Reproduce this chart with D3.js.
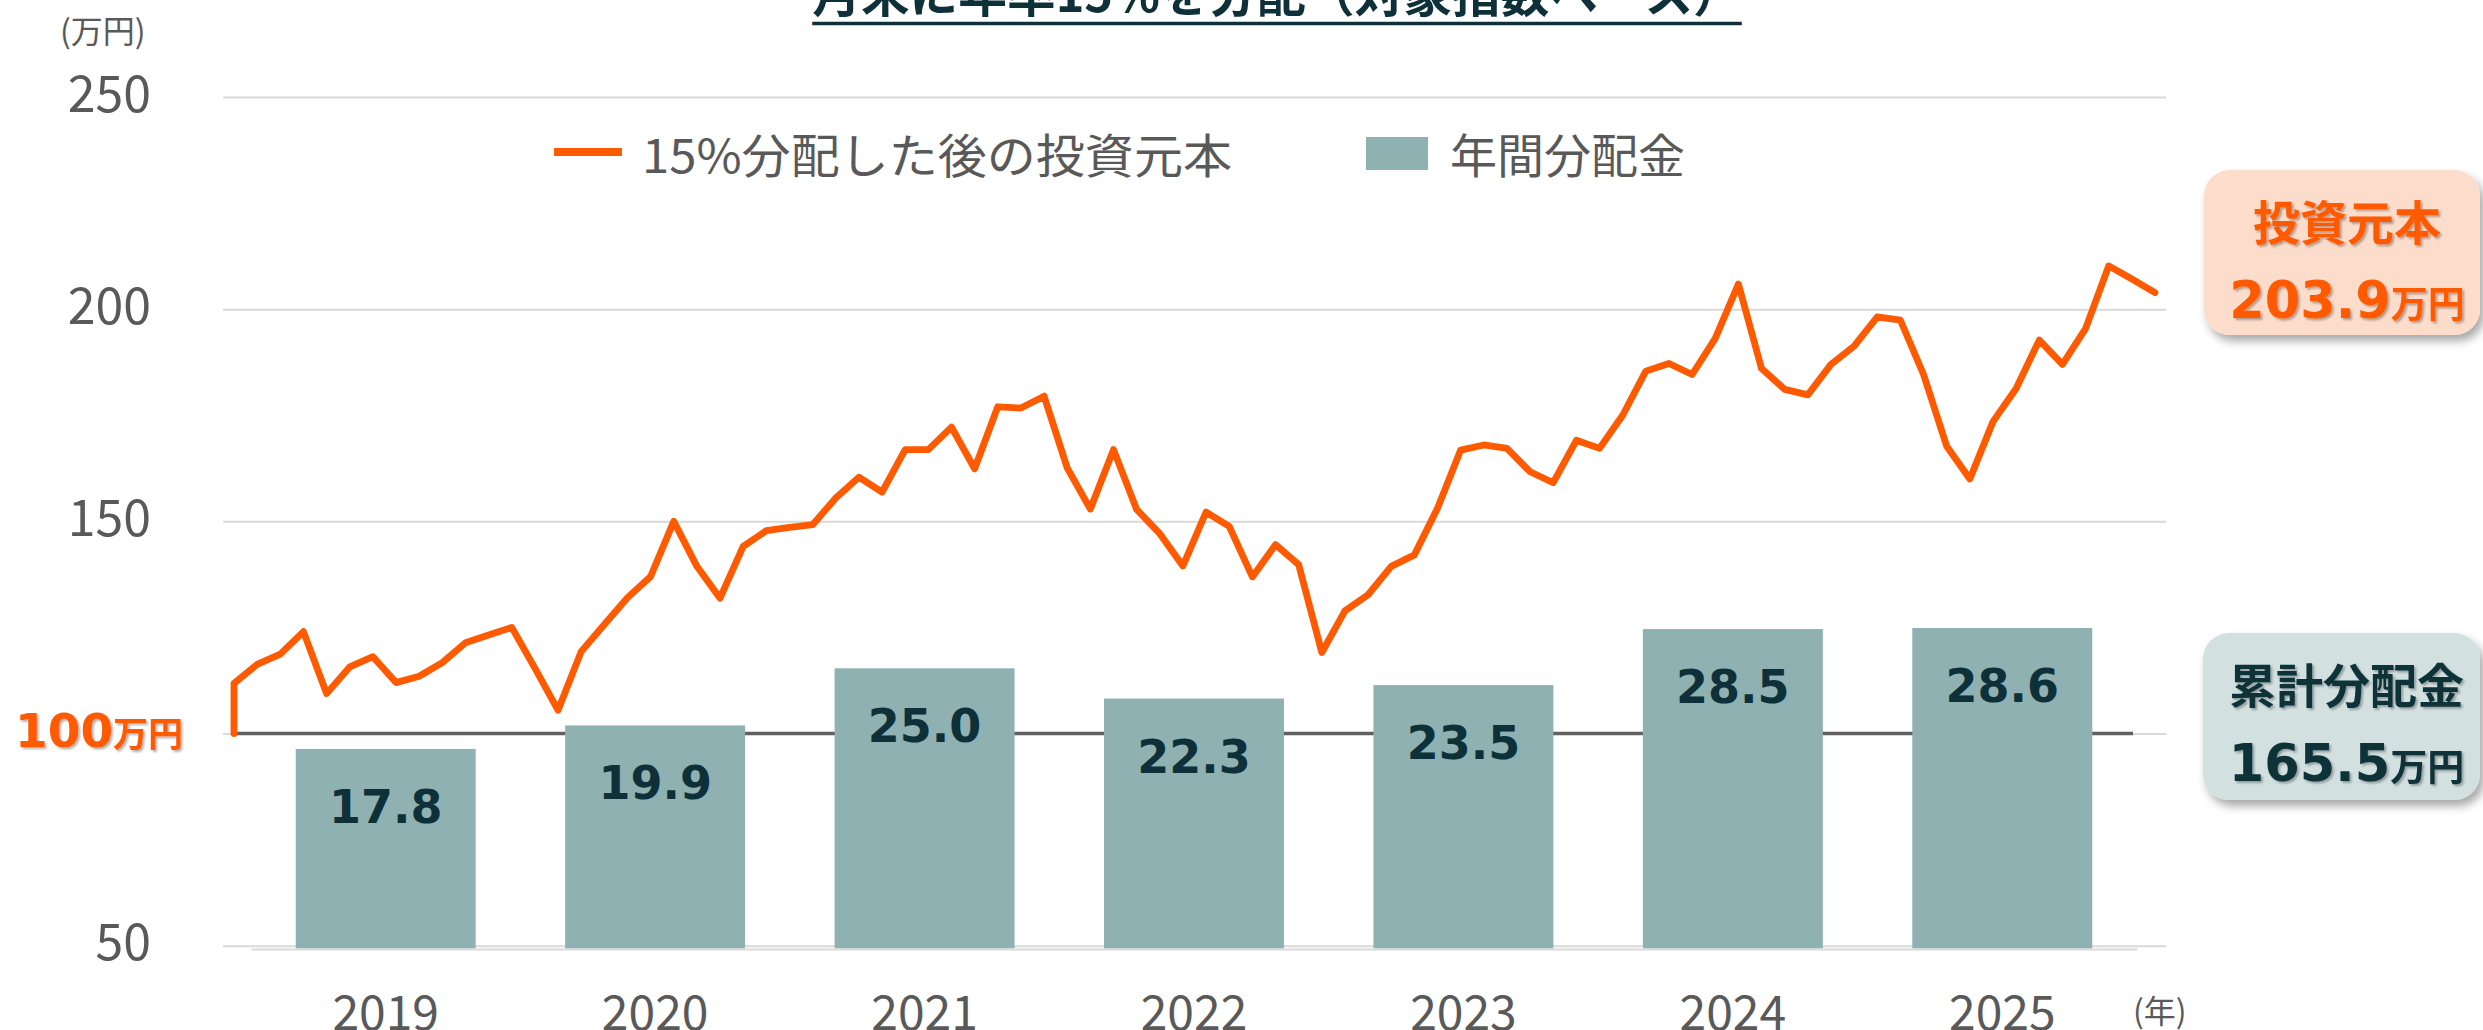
<!DOCTYPE html>
<html><head><meta charset="utf-8">
<script src="https://cdn.jsdelivr.net/npm/d3@7"></script>
<style>body{margin:0;background:#fff;} svg{display:block;}</style>
</head><body>
<script>
// ---------------- data ----------------
const years = ["2019","2020","2021","2022","2023","2024","2025"];
const annualDistribution = [17.8, 19.9, 25.0, 22.3, 23.5, 28.5, 28.6];
const startPrincipal = 100;
const principalMonthly = [
  111.8,116.3,118.7,124.0,109.4,115.7,118.1,112.0,113.5,116.7,121.4,123.2,
  125.0,115.4,105.5,119.3,125.7,132.0,137.0,150.0,139.4,131.9,144.1,147.8,
  148.6,149.2,155.5,160.4,156.9,166.9,166.9,172.2,162.4,177.0,176.7,179.5,
  162.6,152.9,166.9,152.8,147.1,139.5,152.2,148.8,136.9,144.5,139.8,119.1,
  128.9,132.7,139.4,142.1,153.1,166.8,168.0,167.2,161.7,159.1,169.1,167.2,
  175.0,185.4,187.2,184.6,193.1,205.9,186.0,181.1,179.8,187.0,191.3,198.2,
  197.4,184.6,167.7,160.0,173.5,181.3,192.7,187.0,195.4,210.2,207.1,203.9
];
const yTicks = [50, 100, 150, 200, 250];
const yTickLabelsShown = [50, 150, 200, 250];
const titleText = "月末に年率15%を分配（対象指数ベース）";
const legendLineLabel = "15%分配した後の投資元本";
const legendBarLabel = "年間分配金";
const yUnitLabel = "(万円)";
const xUnitLabel = "(年)";
const baseLabel = ["100", "万円"];
const principalBox = {title: "投資元本", value: "203.9", unit: "万円"};
const cumulativeBox = {title: "累計分配金", value: "165.5", unit: "万円"};

// ---------------- style ----------------
const ORANGE = "#FF5A00", BAR = "#8FB1B1", DARK = "#0D3039", GRAY = "#595959", GRID = "#D9D9D9";
const JP = "'Noto Sans CJK JP','Noto Sans',sans-serif";
const NUM = "'DejaVu Sans','Verdana',sans-serif";

const W = 2483, H = 1030;
const svg = d3.select("body").append("svg").attr("width", W).attr("height", H);
const defs = svg.append("defs");
const fs = defs.append("filter").attr("id","boxShadow").attr("x","-20%").attr("y","-20%").attr("width","150%").attr("height","160%");
fs.append("feDropShadow").attr("dx",4).attr("dy",6).attr("stdDeviation",5).attr("flood-color","#000").attr("flood-opacity",0.35);
const ft = defs.append("filter").attr("id","textShadow").attr("x","-10%").attr("y","-20%").attr("width","130%").attr("height","150%");
ft.append("feDropShadow").attr("dx",2).attr("dy",2).attr("stdDeviation",1.2).attr("flood-color","#000").attr("flood-opacity",0.3);

// ---------------- scales ----------------
const plotLeft = 223, plotRight = 2166;
const y = d3.scaleLinear().domain([50, 250]).range([945.7, 97]);
const yBar = d3.scaleLinear().domain([0, 76]).range([948.3, 97.1]);
const xBand = d3.scaleBand().domain(years).range([251, 2137]).paddingInner(0.332).paddingOuter(0.166);
const xLine = d3.scaleLinear().domain([0, principalMonthly.length - 1]).range([234, 2155]);

// ---------------- title ----------------
const title = svg.append("text").attr("x", 1277).attr("y", 12).attr("text-anchor","middle")
  .attr("font-family", JP).attr("font-weight", 700).attr("font-size", 48.7).attr("fill", DARK).text(titleText);
const tb = title.node().getBBox();
svg.append("line").attr("x1", tb.x).attr("x2", tb.x + tb.width).attr("y1", 23.5).attr("y2", 23.5)
  .attr("stroke", DARK).attr("stroke-width", 3.5);

// ---------------- y axis / grid ----------------
const gy = svg.append("g").attr("transform", `translate(${plotLeft},0)`)
  .call(d3.axisLeft(y).tickValues(yTicks).tickSize(-(plotRight - plotLeft)).tickPadding(72)
    .tickFormat(d => yTickLabelsShown.includes(d) ? String(d) : ""));
gy.select(".domain").remove();
gy.selectAll(".tick line").attr("stroke", GRID).attr("stroke-width", 2);
gy.selectAll(".tick text").attr("dy", null).attr("y", -8).attr("dominant-baseline","central")
  .attr("font-family", JP).attr("font-size", 50).attr("fill", GRAY);

svg.append("text").attr("x", 60).attr("y", 29).attr("dominant-baseline","central")
  .attr("font-family", JP).attr("font-size", 32).attr("fill", GRAY).text(yUnitLabel);

// ---------------- 100 reference line ----------------
svg.append("line").attr("x1", xLine(0)).attr("x2", xBand.range()[1] - 4)
  .attr("y1", y(startPrincipal)).attr("y2", y(startPrincipal))
  .attr("stroke", "#606060").attr("stroke-width", 3.5);

// ---------------- x axis (bars) ----------------
const gx = svg.append("g").attr("transform", `translate(0,${yBar(0) + 0.7})`)
  .call(d3.axisBottom(xBand).tickSize(0).tickSizeOuter(0));
gx.select(".domain").attr("stroke", GRID).attr("stroke-width", 2);
gx.selectAll(".tick text").attr("dy", null).attr("y", 60).attr("dominant-baseline","central")
  .attr("font-family", JP).attr("font-size", 48).attr("fill", GRAY);

svg.append("text").attr("x", 2133).attr("y", 1009).attr("dominant-baseline","central")
  .attr("font-family", JP).attr("font-size", 32).attr("fill", GRAY).text(xUnitLabel);

// ---------------- bars ----------------
const barData = years.map((yr, i) => ({yr, v: annualDistribution[i]}));
svg.append("g").selectAll("rect").data(barData).join("rect")
  .attr("x", d => xBand(d.yr)).attr("width", xBand.bandwidth())
  .attr("y", d => yBar(d.v)).attr("height", d => yBar(0) - yBar(d.v))
  .attr("fill", BAR);
svg.append("g").selectAll("text").data(barData).join("text")
  .attr("x", d => xBand(d.yr) + xBand.bandwidth() / 2).attr("y", d => yBar(d.v) + 74)
  .attr("text-anchor","middle").attr("font-family", NUM).attr("font-weight", 700)
  .attr("font-size", 46).attr("fill", DARK).text(d => d.v.toFixed(1));

// ---------------- principal line ----------------
const lineData = [{i: 0, v: startPrincipal}].concat(principalMonthly.map((v, i) => ({i, v})));
svg.append("path").datum(lineData)
  .attr("d", d3.line().x(d => xLine(d.i)).y(d => y(d.v)))
  .attr("fill","none").attr("stroke", ORANGE).attr("stroke-width", 6.8)
  .attr("stroke-linejoin","round").attr("stroke-linecap","round");

// ---------------- legend ----------------
svg.append("line").attr("x1", 554).attr("x2", 622).attr("y1", 152).attr("y2", 152)
  .attr("stroke", ORANGE).attr("stroke-width", 8);
svg.append("text").attr("x", 642).attr("y", 152).attr("dominant-baseline","central")
  .attr("font-family", JP).attr("font-size", 47).attr("fill", GRAY)
  .attr("textLength", 590).attr("lengthAdjust", "spacingAndGlyphs").text(legendLineLabel);
svg.append("rect").attr("x", 1366).attr("y", 137).attr("width", 62).attr("height", 33).attr("fill", BAR);
svg.append("text").attr("x", 1450).attr("y", 152).attr("dominant-baseline","central")
  .attr("font-family", JP).attr("font-size", 47).attr("fill", GRAY).text(legendBarLabel);

// ---------------- 100万円 label ----------------
const bl = svg.append("text").attr("x", 15).attr("y", 747).attr("fill", ORANGE).attr("font-weight", 700)
  .attr("filter","url(#textShadow)");
bl.append("tspan").attr("font-family", NUM).attr("font-size", 47).text(baseLabel[0]);
bl.append("tspan").attr("font-family", JP).attr("font-size", 35).text(baseLabel[1]);

// ---------------- right boxes ----------------
function infoBox(b, bx, by, bw, bh, fill, color) {
  svg.append("rect").attr("x", bx).attr("y", by).attr("width", bw).attr("height", bh)
    .attr("rx", 26).attr("fill", fill).attr("filter","url(#boxShadow)");
  const cx = bx + bw / 2 + 5;
  svg.append("text").attr("x", cx).attr("y", by + 49).attr("text-anchor","middle").attr("dominant-baseline","central")
    .attr("font-family", JP).attr("font-weight", 700).attr("font-size", 47).attr("fill", color)
    .attr("filter","url(#textShadow)").text(b.title);
  const t = svg.append("text").attr("x", cx).attr("y", by + 148).attr("text-anchor","middle")
    .attr("font-weight", 700).attr("fill", color).attr("filter","url(#textShadow)");
  t.append("tspan").attr("font-family", NUM).attr("font-size", 51).text(b.value);
  t.append("tspan").attr("font-family", JP).attr("font-size", 37).text(b.unit);
}
infoBox(principalBox, 2204, 170, 276, 165, "#FCDDCC", ORANGE);
infoBox(cumulativeBox, 2203, 633, 277, 167, "#D3E0E0", DARK);
</script>
</body></html>
